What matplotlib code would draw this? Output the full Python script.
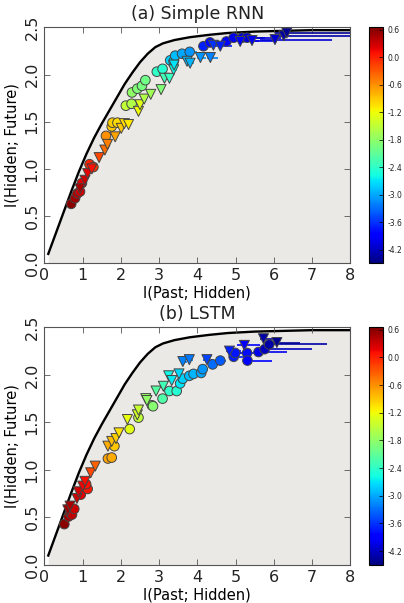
import matplotlib
matplotlib.use('Agg')
import matplotlib.pyplot as plt

# bound curve, same in both panels
bound_x = [0.1, 0.3, 0.5, 0.7, 0.9, 1.1, 1.3, 1.5, 1.7, 1.9, 2.1, 2.3,
           2.5, 2.7, 2.9, 3.1, 3.4, 3.8, 4.3, 4.8, 5.5, 6.0, 7.0, 8.0]
bound_y = [0.10, 0.32, 0.54, 0.76, 0.97, 1.16, 1.33, 1.48, 1.62, 1.76, 1.90,
           2.02, 2.13, 2.22, 2.29, 2.33, 2.365, 2.395, 2.42, 2.44, 2.455,
           2.46, 2.47, 2.47]

# (a) Simple RNN - circles
rnn_circ_x = [0.70, 0.80, 0.86, 0.93, 0.98, 1.18, 1.28, 1.61, 1.76, 1.78,
              1.91, 2.13, 2.28, 2.29, 2.43, 2.55, 2.64, 2.94, 3.09, 3.29,
              3.38, 3.42, 3.60, 3.80, 4.16, 4.33, 4.76, 4.95, 5.17, 5.30]
rnn_circ_y = [0.63, 0.69, 0.74, 0.76, 0.85, 1.05, 1.02, 1.35, 1.45, 1.49,
              1.49, 1.67, 1.69, 1.81, 1.85, 1.88, 1.94, 2.03, 2.06, 2.15,
              2.14, 2.20, 2.22, 2.24, 2.30, 2.34, 2.35, 2.39, 2.39, 2.39]
rnn_circ_c = [0.6, 0.5, 0.4, 0.3, 0.2, 0.0, -0.1, -0.6, -0.9, -0.95,
              -1.0, -1.5, -1.6, -1.8, -1.9, -1.95, -2.0, -2.4, -2.45, -2.8,
              -2.85, -2.9, -3.0, -3.1, -3.7, -3.8, -3.9, -4.0, -4.1, -4.1]
rnn_circ_elo = [0, 0, 0, 0, 0, 0, 0, 0, 0, 0,
                0, 0, 0, 0, 0, 0, 0, 0, 0, 0,
                0, 0, 0.05, 0.1, 0.1, 0.1, 0.15, 0.2, 0.2, 0.3]
rnn_circ_ehi = [0, 0, 0, 0, 0, 0, 0, 0, 0, 0,
                0, 0, 0, 0, 0, 0, 0, 0, 0, 0,
                0, 0, 0.1, 0.2, 0.15, 0.2, 0.3, 0.5, 0.6, 0.9]

# (a) Simple RNN - triangles
rnn_tri_x = [0.93, 1.06, 1.13, 1.24, 1.43, 1.58, 1.65, 1.85, 2.01, 2.09,
             2.20, 2.46, 2.50, 2.61, 2.78, 3.05, 3.14, 3.27, 3.38, 3.39,
             3.73, 3.81, 4.08, 4.34, 4.42, 4.60, 5.12, 5.43, 6.03, 6.26, 6.34]
rnn_tri_y = [0.79, 0.88, 0.95, 1.00, 1.12, 1.20, 1.26, 1.34, 1.43, 1.48,
             1.47, 1.61, 1.68, 1.74, 1.79, 1.84, 1.96, 1.96, 2.05, 2.10,
             2.14, 2.12, 2.18, 2.18, 2.31, 2.30, 2.35, 2.36, 2.37, 2.41, 2.44]
rnn_tri_c = [0.45, 0.3, 0.2, 0.1, -0.2, -0.4, -0.5, -0.7, -0.9, -1.0,
             -1.1, -1.2, -1.3, -1.6, -1.7, -1.9, -2.3, -2.35, -2.6, -2.7,
             -2.9, -2.95, -3.1, -3.2, -3.6, -3.7, -3.9, -4.0, -4.1, -4.3, -4.4]
rnn_tri_elo = [0, 0, 0, 0, 0, 0, 0, 0, 0, 0,
               0, 0, 0, 0, 0, 0, 0, 0, 0.05, 0.05,
               0.05, 0.05, 0.1, 0.1, 0.1, 0.15, 0.3, 0.5, 0.4, 0.3, 0.3]
rnn_tri_ehi = [0, 0, 0, 0, 0, 0, 0, 0, 0, 0,
               0, 0, 0, 0, 0, 0, 0, 0, 0.1, 0.1,
               0.15, 0.1, 0.15, 0.2, 0.2, 0.3, 0.5, 0.6, 1.5, 1.9, 1.9]

# (b) LSTM - circles
lstm_circ_x = [0.52, 0.63, 0.67, 0.72, 0.78, 0.95, 1.13, 1.09, 1.66, 1.76,
               1.83, 2.23, 2.46, 2.81, 2.84, 3.09, 3.27, 3.46, 3.55, 3.62,
               3.79, 3.90, 4.10, 4.14, 4.40, 4.60, 4.95, 4.99, 5.30, 5.31,
               5.60, 5.76, 5.88]
lstm_circ_y = [0.43, 0.51, 0.55, 0.53, 0.59, 0.74, 0.80, 0.85, 1.12, 1.13,
               1.25, 1.43, 1.55, 1.68, 1.67, 1.75, 1.83, 1.83, 1.91, 1.96,
               1.99, 2.01, 2.02, 2.06, 2.11, 2.15, 2.19, 2.23, 2.23, 2.15,
               2.24, 2.27, 2.32]
lstm_circ_c = [0.6, 0.45, 0.4, 0.35, 0.3, 0.2, 0.05, 0.1, -0.7, -0.75,
               -0.9, -1.3, -1.5, -1.8, -1.85, -2.2, -2.4, -2.45, -2.7, -2.8,
               -2.9, -2.95, -3.0, -3.1, -3.3, -3.4, -3.7, -3.75, -3.8, -3.85,
               -4.0, -4.2, -4.3]
lstm_circ_elo = [0, 0, 0, 0, 0, 0, 0, 0, 0, 0,
                 0, 0, 0, 0, 0, 0, 0, 0, 0, 0,
                 0, 0, 0.05, 0.05, 0.05, 0.1, 0.1, 0.15, 0.2, 0.1,
                 0.1, 0.1, 0.1]
lstm_circ_ehi = [0, 0, 0, 0, 0, 0, 0, 0, 0, 0,
                 0, 0, 0, 0, 0, 0, 0, 0, 0, 0,
                 0, 0, 0.1, 0.1, 0.1, 0.15, 0.3, 0.3, 0.4, 0.65,
                 0.75, 1.25, 1.5]

# (b) LSTM - triangles
lstm_tri_x = [0.61, 0.67, 0.85, 0.89, 1.00, 1.06, 1.21, 1.33, 1.66, 1.76,
              1.87, 1.95, 2.17, 2.43, 2.46, 2.65, 2.68, 2.92, 3.11, 3.25,
              3.33, 3.52, 3.62, 3.79, 4.25, 4.84, 5.23, 5.73, 6.08]
lstm_tri_y = [0.58, 0.62, 0.70, 0.77, 0.83, 0.88, 0.97, 1.04, 1.25, 1.30,
              1.33, 1.39, 1.53, 1.58, 1.63, 1.75, 1.73, 1.83, 1.88, 1.99,
              1.94, 2.01, 2.14, 2.16, 2.16, 2.25, 2.31, 2.38, 2.34]
lstm_tri_c = [0.5, 0.45, 0.3, 0.25, 0.15, 0.1, -0.2, -0.35, -0.75, -0.85,
              -0.95, -1.05, -1.25, -1.4, -1.45, -1.75, -1.8, -2.15, -2.3, -2.6,
              -2.65, -2.75, -3.2, -3.25, -3.5, -3.7, -3.9, -4.3, -4.4]
lstm_tri_elo = [0, 0, 0, 0, 0, 0, 0, 0, 0, 0,
                0, 0, 0, 0, 0, 0, 0, 0, 0, 0,
                0, 0, 0.05, 0.05, 0.1, 0.1, 0.2, 0.1, 0.1]
lstm_tri_ehi = [0, 0, 0, 0, 0, 0, 0, 0, 0, 0,
                0, 0, 0, 0, 0, 0, 0, 0, 0, 0,
                0, 0, 0.1, 0.1, 0.15, 0.3, 0.4, 0.3, 0.6]

cbar_ticks = [0.6, 0.0, -0.6, -1.2, -1.8, -2.4, -3.0, -3.6, -4.2]

VMIN, VMAX = -4.5, 0.65
cmap = plt.get_cmap('jet')
norm = plt.Normalize(VMIN, VMAX)

plt.rcParams['font.family'] = 'DejaVu Sans'
plt.rcParams['axes.unicode_minus'] = False
plt.rcParams['xtick.direction'] = 'in'
plt.rcParams['ytick.direction'] = 'in'
plt.rcParams['xtick.top'] = True
plt.rcParams['ytick.right'] = True
plt.rcParams['text.color'] = '#222222'
plt.rcParams['xtick.labelcolor'] = '#222222'
plt.rcParams['ytick.labelcolor'] = '#222222'


def draw_errors(ax, x, y, c, elo, ehi):
    for xi, yi, ci, lo, hi in zip(x, y, c, elo, ehi):
        if lo == 0 and hi == 0:
            continue
        ax.errorbar([xi], [yi], xerr=[[lo], [hi]], fmt='none',
                    ecolor=cmap(norm(ci)), elinewidth=1.2, capsize=0, zorder=2)


def panel(fig, rect, cbar_rect, title, cx, cy, cc, celo, cehi,
          tx, ty, tc, telo, tehi):
    ax = fig.add_axes(rect)
    ax.fill_between(bound_x, 0, bound_y, color='#ebe9e6', zorder=0, lw=0)
    ax.plot(bound_x, bound_y, color='black', lw=1.7, zorder=1)
    draw_errors(ax, cx, cy, cc, celo, cehi)
    draw_errors(ax, tx, ty, tc, telo, tehi)
    sc = ax.scatter(cx, cy, c=cc, cmap=cmap, norm=norm, marker='o', s=48,
                    edgecolors='#444444', linewidths=0.7, zorder=3)
    ax.scatter(tx, ty, c=tc, cmap=cmap, norm=norm, marker='v', s=52,
               edgecolors='#444444', linewidths=0.7, zorder=3)
    ax.set_xlim(0, 8)
    ax.set_ylim(0, 2.5)
    ax.set_xticks(range(0, 9))
    ax.set_yticks([0.0, 0.5, 1.0, 1.5, 2.0, 2.5])
    ax.set_yticklabels(['0.0', '0.5', '1.0', '1.5', '2.0', '2.5'],
                       rotation=90, va='center')
    ax.tick_params(labelsize=11.5, length=4, width=0.6, color='#555555')
    for s in ax.spines.values():
        s.set_color('#555555')
        s.set_linewidth(0.8)
    ax.set_title(title, fontsize=12.5, pad=6)
    ax.set_xlabel('I(Past; Hidden)', fontsize=10.5, labelpad=2)
    ax.set_ylabel('I(Hidden; Future)', fontsize=10.5, labelpad=4)

    cax = fig.add_axes(cbar_rect)
    cb = fig.colorbar(sc, cax=cax, ticks=cbar_ticks)
    cb.ax.tick_params(labelsize=5.5, length=3, width=0.5, direction='in', pad=3)
    cb.outline.set_linewidth(0.8)
    return ax


fig = plt.figure(figsize=(4.04, 6.03), dpi=100)

panel(fig, [0.110, 0.5633, 0.757, 0.3914], [0.913, 0.5633, 0.035, 0.3914],
      '(a) Simple RNN',
      rnn_circ_x, rnn_circ_y, rnn_circ_c, rnn_circ_elo, rnn_circ_ehi,
      rnn_tri_x, rnn_tri_y, rnn_tri_c, rnn_tri_elo, rnn_tri_ehi)

panel(fig, [0.110, 0.0630, 0.757, 0.3942], [0.913, 0.0630, 0.035, 0.3942],
      '(b) LSTM',
      lstm_circ_x, lstm_circ_y, lstm_circ_c, lstm_circ_elo, lstm_circ_ehi,
      lstm_tri_x, lstm_tri_y, lstm_tri_c, lstm_tri_elo, lstm_tri_ehi)

fig.savefig('out.png', dpi=100, facecolor='white')
